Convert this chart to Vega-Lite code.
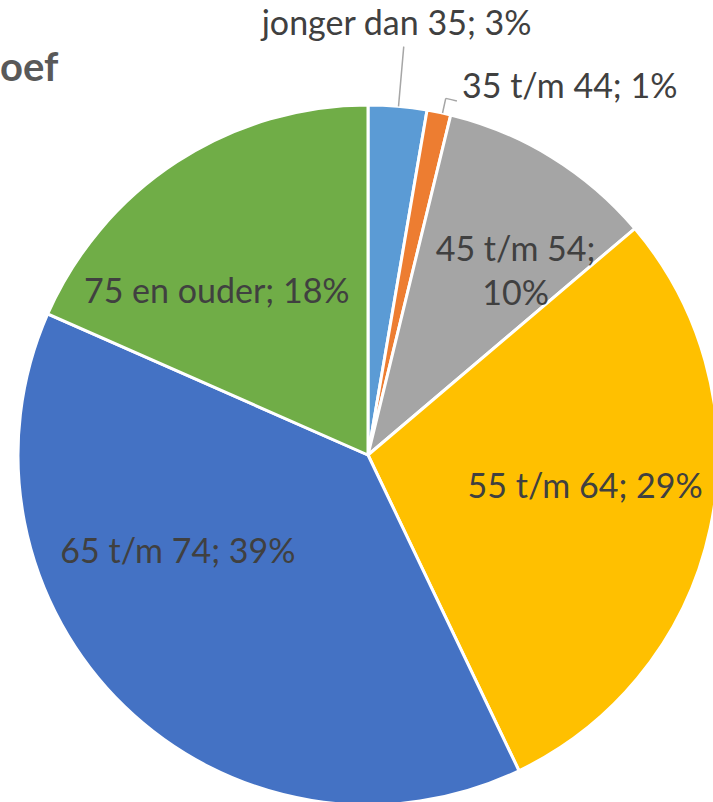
{
  "$schema": "https://vega.github.io/schema/vega-lite/v6.json",
  "width": 690,
  "height": 694,
  "autosize": {"type": "none"},
  "padding": {"left": 23, "top": 108, "right": 0, "bottom": 0},
  "background": "white",
  "title": {"text": "oef", "anchor": "start", "frame": "group", "font": "Lato", "fontSize": 40, "fontWeight": "bold", "color": "#595959", "dx": -23, "dy": 85},
  "data": {"values": [
    {"label": "jonger dan 35", "pct": 2.7, "order": 1, "text": "jonger dan 35; 3%"},
    {"label": "35 t/m 44", "pct": 1.1, "order": 2, "text": "35 t/m 44; 1%"},
    {"label": "45 t/m 54", "pct": 10.0, "order": 3, "text": "45 t/m 54;\n10%"},
    {"label": "55 t/m 64", "pct": 29.1, "order": 4, "text": "55 t/m 64; 29%"},
    {"label": "65 t/m 74", "pct": 38.7, "order": 5, "text": "65 t/m 74; 39%"},
    {"label": "75 en ouder", "pct": 18.4, "order": 6, "text": "75 en ouder; 18%"}
  ]},
  "resolve": {"scale": {"theta": "independent"}},
  "layer": [
    {
      "mark": {"type": "arc", "outerRadius": 350, "stroke": "white", "strokeWidth": 3},
      "encoding": {
        "theta": {"field": "pct", "type": "quantitative", "stack": true},
        "order": {"field": "order", "type": "quantitative"},
        "color": {"field": "label", "type": "nominal", "legend": null,
          "scale": {"domain": ["jonger dan 35", "35 t/m 44", "45 t/m 54", "55 t/m 64", "65 t/m 74", "75 en ouder"],
                    "range": ["#5B9BD5", "#ED7D31", "#A5A5A5", "#FFC000", "#4472C4", "#70AD47"]}}
      }
    },
    {
      "transform": [
        {"stack": "pct", "groupby": [], "sort": [{"field": "order", "order": "ascending"}], "as": ["v0", "v1"]},
        {"filter": "datum.label === 'jonger dan 35'"}
      ],
      "mark": {"type": "arc", "radius": 410, "radius2": 350, "thetaOffset": 0.0873, "theta2Offset": 0.0873, "fill": "transparent", "stroke": "#A6A6A6", "strokeWidth": 1.5},
      "encoding": {
        "theta": {"field": "v0", "type": "quantitative", "stack": null, "scale": {"domain": [0, 100]}},
        "theta2": {"field": "v0"}
      }
    },
    {
      "transform": [
        {"stack": "pct", "groupby": [], "sort": [{"field": "order", "order": "ascending"}], "as": ["v0", "v1"]},
        {"filter": "datum.label === '35 t/m 44'"}
      ],
      "mark": {"type": "arc", "radius": 365, "radius2": 350, "thetaOffset": 0.045, "theta2Offset": 0.045, "fill": "transparent", "stroke": "#A6A6A6", "strokeWidth": 1.5},
      "encoding": {
        "theta": {"field": "v0", "type": "quantitative", "stack": null, "scale": {"domain": [0, 100]}},
        "theta2": {"field": "v0"}
      }
    },
    {
      "transform": [
        {"stack": "pct", "groupby": [], "sort": [{"field": "order", "order": "ascending"}], "as": ["v0", "v1"]},
        {"filter": "datum.label === '35 t/m 44'"}
      ],
      "mark": {"type": "arc", "radius": 365, "radius2": 365, "thetaOffset": 0.045, "theta2Offset": 0.0764, "fill": "transparent", "stroke": "#A6A6A6", "strokeWidth": 1.5},
      "encoding": {
        "theta": {"field": "v0", "type": "quantitative", "stack": null, "scale": {"domain": [0, 100]}},
        "theta2": {"field": "v0"}
      }
    },
    {
      "mark": {"type": "text", "radius": 431.6, "font": "Lato", "fontSize": 34, "color": "#404040", "align": "center", "baseline": "middle", "dx": -8},
      "encoding": {
        "theta": {"field": "pct", "type": "quantitative", "stack": true},
        "order": {"field": "order", "type": "quantitative"},
        "text": {"condition": {"test": "datum.label === 'jonger dan 35'", "field": "text"}, "value": ""}
      }
    },
    {
      "mark": {"type": "text", "radius": 374.8, "font": "Lato", "fontSize": 34, "color": "#404040", "align": "left", "baseline": "middle", "dx": 18},
      "encoding": {
        "theta": {"field": "pct", "type": "quantitative", "stack": true},
        "order": {"field": "order", "type": "quantitative"},
        "text": {"condition": {"test": "datum.label === '35 t/m 44'", "field": "text"}, "value": ""}
      }
    },
    {
      "mark": {"type": "text", "radius": 220, "font": "Lato", "fontSize": 34, "color": "#404040", "align": "center", "baseline": "middle", "lineBreak": "\n", "lineHeight": 44, "dx": 32, "dy": -17},
      "encoding": {
        "theta": {"field": "pct", "type": "quantitative", "stack": true},
        "order": {"field": "order", "type": "quantitative"},
        "text": {"condition": {"test": "datum.label === '45 t/m 54'", "field": "text"}, "value": ""}
      }
    },
    {
      "mark": {"type": "text", "radius": 220, "font": "Lato", "fontSize": 34, "color": "#404040", "align": "center", "baseline": "middle", "dx": 2, "dy": -13},
      "encoding": {
        "theta": {"field": "pct", "type": "quantitative", "stack": true},
        "order": {"field": "order", "type": "quantitative"},
        "text": {"condition": {"test": "datum.label === '55 t/m 64'", "field": "text"}, "value": ""}
      }
    },
    {
      "mark": {"type": "text", "radius": 220, "font": "Lato", "fontSize": 34, "color": "#404040", "align": "center", "baseline": "middle", "dx": -37, "dy": -60},
      "encoding": {
        "theta": {"field": "pct", "type": "quantitative", "stack": true},
        "order": {"field": "order", "type": "quantitative"},
        "text": {"condition": {"test": "datum.label === '65 t/m 74'", "field": "text"}, "value": ""}
      }
    },
    {
      "mark": {"type": "text", "radius": 220, "font": "Lato", "fontSize": 34, "color": "#404040", "align": "center", "baseline": "middle", "dx": -31, "dy": 22},
      "encoding": {
        "theta": {"field": "pct", "type": "quantitative", "stack": true},
        "order": {"field": "order", "type": "quantitative"},
        "text": {"condition": {"test": "datum.label === '75 en ouder'", "field": "text"}, "value": ""}
      }
    }
  ],
  "config": {"view": {"stroke": null}}
}
